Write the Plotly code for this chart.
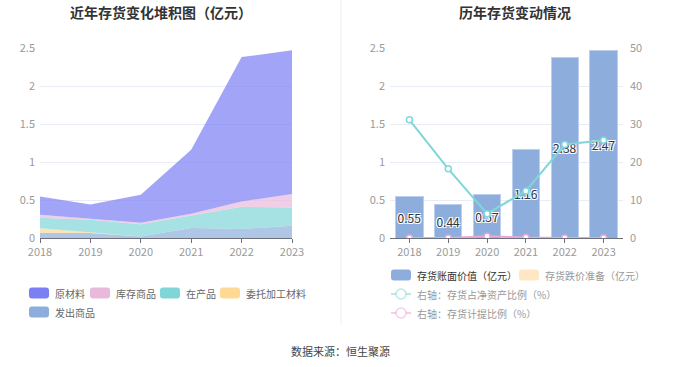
import plotly.graph_objects as go

W, H = 680, 367

# ---------------- data ----------------
years = ['2018', '2019', '2020', '2021', '2022', '2023']

# stacked area (亿元), bottom -> top
shipped = [0.07, 0.065, 0.02, 0.13, 0.12, 0.16]          # 发出商品
consigned = [0.057, 0.005, 0.0, 0.0, 0.0, 0.0]           # 委托加工材料
wip = [0.14, 0.17, 0.16, 0.165, 0.29, 0.24]              # 在产品
finished_goods = [0.04, 0.015, 0.02, 0.025, 0.07, 0.18]  # 库存商品
raw_material = [0.24, 0.185, 0.37, 0.84, 1.90, 1.89]     # 原材料

area_names = ['发出商品', '委托加工材料', '在产品', '库存商品', '原材料']
area_values = [shipped, consigned, wip, finished_goods, raw_material]
area_colors = ['#8daedc', '#ffd993', '#80d5d8', '#e9b9dc', '#7b7ff3']
legend_left_order = ['原材料', '库存商品', '在产品', '委托加工材料', '发出商品']

# right chart
book_value = [0.55, 0.44, 0.57, 1.16, 2.38, 2.47]        # 存货账面价值（亿元）
impairment = [0.0, 0.0, 0.0, 0.0, 0.0, 0.0]               # 存货跌价准备（亿元）
ratio_net_assets = [31.1, 18.2, 6.4, 12.4, 24.6, 25.7]    # 存货占净资产比例（%）
provision_ratio = [0.0, 0.0, 0.45, 0.1, 0.0, 0.0]         # 存货计提比例（%）

bar_names = ['存货账面价值（亿元）', '存货跌价准备（亿元）']
line_names = ['右轴：存货占净资产比例（%）', '右轴：存货计提比例（%）']
bar_colors = ['#8daedc', '#ffe6c4']
line_colors = ['#7fd7d9', '#eba6d9']

FONT = 'Noto Sans CJK SC, Noto Sans, sans-serif'


def px(x):
    return x / W


def py(y):
    return 1 - y / H


def hex_rgba(h, a):
    h = h.lstrip('#')
    return 'rgba(%d,%d,%d,%.2f)' % (int(h[0:2], 16), int(h[2:4], 16), int(h[4:6], 16), a)


fig = go.Figure()

# ---------------- left: stacked area ----------------
for name, vals, col in zip(area_names, area_values, area_colors):
    fig.add_trace(go.Scatter(
        x=years, y=vals, name=name, mode='lines', stackgroup='inv',
        line=dict(width=0, color=col), fillcolor=hex_rgba(col, 0.7),
        xaxis='x', yaxis='y', showlegend=False))

# ---------------- right: bars + lines ----------------
fig.add_trace(go.Bar(
    x=years, y=book_value, name=bar_names[0],
    marker=dict(color=bar_colors[0], line=dict(width=1, color='#bccfee')),
    width=0.7, text=book_value, texttemplate='%{y:.2f}', textposition='inside',
    insidetextanchor='middle', textangle=0, constraintext='none',
    textfont=dict(size=12, color='#333', family=FONT,
                  shadow='1px 1px 0 #fff, -1px -1px 0 #fff, 1px -1px 0 #fff, -1px 1px 0 #fff'),
    xaxis='x2', yaxis='y2', showlegend=False))
fig.add_trace(go.Bar(
    x=years, y=impairment, name=bar_names[1], marker=dict(color=bar_colors[1], line=dict(width=0)),
    width=0.7, xaxis='x2', yaxis='y2', showlegend=False))
for name, vals, col in zip(line_names, [ratio_net_assets, provision_ratio], line_colors):
    fig.add_trace(go.Scatter(
        x=years, y=vals, name=name, mode='lines+markers',
        line=dict(color=col, width=2),
        marker=dict(symbol='circle', size=6, color='white', line=dict(color=col, width=1.5)),
        xaxis='x2', yaxis='y3', showlegend=False))

axis_tick_font = dict(size=11, color='#9a9a9a', family=FONT)
grid_col = '#e9ecf6'
fig.update_layout(
    template='none',
    width=W, height=H, margin=dict(l=0, r=0, t=0, b=0, pad=0, autoexpand=False),
    paper_bgcolor='white', plot_bgcolor='white', showlegend=False,
    font=dict(family=FONT), barmode='stack', bargap=0.3,
    xaxis=dict(domain=[px(40), px(292)], type='category', range=[0, 5],
               showline=True, linecolor='#6e7079', linewidth=1,
               ticks='outside', ticklen=4, tickcolor='#6e7079',
               showgrid=False, zeroline=False, tickfont=axis_tick_font, anchor='y', automargin=False),
    yaxis=dict(domain=[py(238), py(48)], range=[0, 2.5], dtick=0.5, ticks='',
               showgrid=True, gridcolor=grid_col, zeroline=False, showline=False,
               tickfont=axis_tick_font, anchor='x', ticklabelstandoff=4, automargin=False),
    xaxis2=dict(domain=[px(390), px(623)], type='category',
                showline=True, linecolor='#6e7079', linewidth=1,
                ticks='outside', ticklen=4, tickcolor='#6e7079',
                showgrid=False, zeroline=False, tickfont=axis_tick_font, anchor='y2', automargin=False),
    yaxis2=dict(domain=[py(238), py(48)], range=[0, 2.5], dtick=0.5, ticks='',
                showgrid=True, gridcolor=grid_col, zeroline=False, showline=False,
                tickfont=axis_tick_font, anchor='x2', ticklabelstandoff=4, automargin=False),
    yaxis3=dict(range=[0, 50], dtick=10, overlaying='y2', side='right', anchor='x2', ticks='',
                showgrid=False, zeroline=False, showline=False, tickfont=axis_tick_font,
                ticklabelstandoff=6, automargin=False),
)

shapes = []
annotations = []

# titles
annotations.append(dict(text='<b>近年存货变化堆积图（亿元）</b>', x=px(161), y=py(12), xref='paper', yref='paper',
                        xanchor='center', yanchor='middle',
                        showarrow=False, font=dict(size=14, color='#333', family=FONT)))
annotations.append(dict(text='<b>历年存货变动情况</b>', x=px(515), y=py(12), xref='paper', yref='paper',
                        xanchor='center', yanchor='middle',
                        showarrow=False, font=dict(size=14, color='#333', family=FONT)))
# footer
annotations.append(dict(text='数据来源：恒生聚源', x=px(340), y=py(351), xref='paper', yref='paper',
                        xanchor='center', yanchor='middle',
                        showarrow=False, font=dict(size=11, color='#444', family=FONT)))

# divider
shapes.append(dict(type='line', xref='paper', yref='paper', x0=px(341), x1=px(341), y0=py(0), y1=py(325),
                   line=dict(color='#eeeeee', width=1)))


def rrect(x0, y0, x1, y1, r=3):
    X = lambda v: px(v)
    Y = lambda v: py(v)
    return ('M %f,%f L %f,%f Q %f,%f %f,%f L %f,%f Q %f,%f %f,%f L %f,%f Q %f,%f %f,%f L %f,%f Q %f,%f %f,%f Z' % (
        X(x0 + r), Y(y0), X(x1 - r), Y(y0), X(x1), Y(y0), X(x1), Y(y0 + r),
        X(x1), Y(y1 - r), X(x1), Y(y1), X(x1 - r), Y(y1),
        X(x0 + r), Y(y1), X(x0), Y(y1), X(x0), Y(y1 - r),
        X(x0), Y(y0 + r), X(x0), Y(y0), X(x0 + r), Y(y0)))


def legend_box(name, color, x, y, tcolor):
    shapes.append(dict(type='path', xref='paper', yref='paper', path=rrect(x, y - 5.5, x + 20, y + 5.5),
                       fillcolor=color, line=dict(width=0)))
    annotations.append(dict(text=name, x=px(x + 24), y=py(y), xref='paper', yref='paper', xanchor='left',
                            yanchor='middle', showarrow=False, font=dict(size=10, color=tcolor, family=FONT)))


# left legend
color_of = dict(zip(area_names, area_colors))
left_pos = [(29, 293), (90, 293), (160, 293), (220, 293), (29, 312)]
for name, (lx, ly) in zip(legend_left_order, left_pos):
    legend_box(name, color_of[name], lx, ly, '#666')

# right legend
legend_box(bar_names[0], bar_colors[0], 391, 275, '#333')
legend_box(bar_names[1], bar_colors[1], 519, 275, '#999')
for name, col, ly in zip(line_names, line_colors, [294, 313]):
    lc = hex_rgba(col, 0.55)
    shapes.append(dict(type='line', xref='paper', yref='paper', x0=px(391), x1=px(411), y0=py(ly), y1=py(ly),
                       line=dict(color=lc, width=2)))
    shapes.append(dict(type='circle', xref='paper', yref='paper', x0=px(396), x1=px(406), y0=py(ly - 5),
                       y1=py(ly + 5), fillcolor='white', line=dict(color=lc, width=1.5)))
    annotations.append(dict(text=name, x=px(415), y=py(ly), xref='paper', yref='paper', xanchor='left',
                            yanchor='middle', showarrow=False, font=dict(size=10, color='#999', family=FONT)))

fig.update_layout(shapes=shapes, annotations=annotations)
fig.write_html('out.html', config={'displayModeBar': False},
               post_script="document.body.style.margin='0';document.body.style.overflow='hidden';")
